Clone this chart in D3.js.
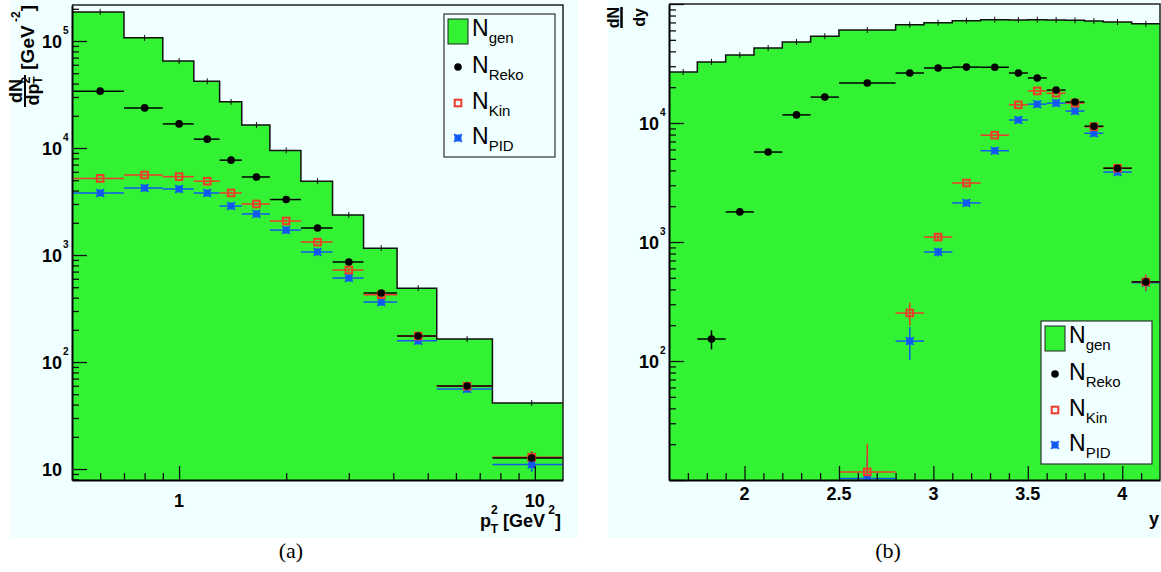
<!DOCTYPE html>
<html><head><meta charset="utf-8">
<script src="https://cdn.jsdelivr.net/npm/d3@7"></script>
<style>body{margin:0;background:#fff}svg{display:block}</style>
</head><body><svg id="c" width="1161" height="572"></svg>
<script>
// ---------------- DATA ----------------
// Panel (a): pT^2 bins [GeV^2]
const ptEdges = [0.5, 0.7, 0.9, 1.1, 1.3, 1.5, 1.8, 2.2, 2.7, 3.3, 4.1, 5.3, 7.6, 12.0];
const ptGen   = [187000, 107000, 65000, 42000, 27000, 16400, 9500, 4900, 2370, 1160, 490, 164, 41.4];
const ptReko  = [34000, 23700, 16800, 12100, 7700, 5360, 3300, 1790, 861, 442, 175, 59.7, 12.7];
const ptKin   = [5200, 5600, 5400, 4900, 3800, 3000, 2080, 1320, 724, 425, 175, 59.5, 12.9];
const ptPID   = [3800, 4230, 4140, 3800, 2870, 2420, 1710, 1070, 610, 363, 158, 56, 11];
const ptRekoErr = [180, 150, 130, 110, 90, 75, 60, 42, 30, 21, 13, 4, 1.6];
const ptKinErr  = [70, 75, 74, 70, 62, 55, 46, 36, 27, 21, 13, 4, 1.8];
const ptPIDErr  = [62, 65, 64, 62, 54, 49, 41, 33, 25, 19, 12, 4, 1.6];
const ptXTicks  = [1, 10];
const ptXLabels = ["1", "10"];
const ptYTicks  = [10, 100, 1000, 10000, 100000];
const ptYLabels = [["10", ""], ["10", "2"], ["10", "3"], ["10", "4"], ["10", "5"]];

// Panel (b): rapidity bins
const yEdges = [1.6, 1.75, 1.9, 2.05, 2.2, 2.35, 2.5, 2.8, 2.95, 3.1, 3.25, 3.4, 3.5, 3.6, 3.7, 3.8, 3.9, 4.05, 4.2];
const yGen   = [26800, 32600, 37300, 42700, 48000, 53700, 60500, 67000, 69600, 72400, 73800, 73400, 73800, 73400, 72900, 71900, 70600, 68300];
const yRekoFirst = 1;
const yReko  = [153, 1790, 5700, 11700, 16500, 21700, 26300, 29000, 29500, 29400, 26300, 23900, 18900, 15000, 9400, 4170, 462];
const yRekoErr = [28, 42, 75, 108, 128, 147, 162, 170, 172, 171, 162, 155, 137, 122, 97, 65, 22];
const yKinFirst = 6;
const yKin   = [11.7, 253, 1100, 3130, 7900, 14200, 18600, 17800, 14700, 9300, 4170, 462];
const yKinErr  = [8.5, 55, 70, 100, 150, 200, 230, 230, 200, 160, 100, 70];
const yPIDFirst = 6;
const yPID   = [10.3, 147, 824, 2130, 5850, 10600, 14400, 14700, 12600, 8200, 3870, 455];
const yPIDErr  = [6, 45, 70, 90, 130, 180, 200, 200, 180, 150, 100, 70];
const yXTicks  = [2, 2.5, 3, 3.5, 4];
const yXLabels = ["2", "2.5", "3", "3.5", "4"];
const yYTicks  = [100, 1000, 10000];
const yYLabels = [["10", "2"], ["10", "3"], ["10", "4"]];

const legendNames = [["N", "gen"], ["N", "Reko"], ["N", "Kin"], ["N", "PID"]];

// ---------------- STYLE ----------------
const svg = d3.select("#c");
const FS = "'Liberation Sans', Arial, Helvetica, sans-serif";
const GREEN = "#33f233", RED = "#ee3b2b", BLUE = "#1259f0", BG = "#f0ffff", INK = "#111";

function marker(g, type, cx, cy) {
  if (type === "reko") {
    g.append("circle").attr("cx", cx).attr("cy", cy).attr("r", 3.8).attr("fill", "#000");
  } else if (type === "kin") {
    g.append("rect").attr("x", cx - 3.3).attr("y", cy - 3.3).attr("width", 6.6).attr("height", 6.6)
      .attr("fill", "none").attr("stroke", RED).attr("stroke-width", 2);
  } else {
    g.append("rect").attr("x", cx - 3.5).attr("y", cy - 3.5).attr("width", 7).attr("height", 7).attr("fill", BLUE);
    g.append("path").attr("d", `M${cx-4},${cy-4}L${cx+4},${cy+4}M${cx-4},${cy+4}L${cx+4},${cy-4}`)
      .attr("stroke", BLUE).attr("stroke-width", 1.4);
  }
}

function legend(bx, by) {
  const g = svg.append("g");
  g.append("rect").attr("x", bx).attr("y", by).attr("width", 111).attr("height", 143)
    .attr("fill", BG).attr("stroke", "#333").attr("stroke-width", 1.2);
  g.append("rect").attr("x", bx + 4).attr("y", by + 5).attr("width", 20).attr("height", 25)
    .attr("fill", GREEN).attr("stroke", "#222").attr("stroke-width", 1);
  marker(g, "reko", bx + 14, by + 53);
  marker(g, "kin", bx + 14, by + 89);
  marker(g, "pid", bx + 14, by + 124);
  const base = [22, 59, 95, 130];
  legendNames.forEach((n, i) => {
    const t = g.append("text").attr("x", bx + 28).attr("y", by + base[i])
      .attr("font-family", FS).attr("fill", "#000");
    t.append("tspan").attr("font-size", 23).text(n[0]);
    t.append("tspan").attr("font-size", 15).attr("dy", 7).text(n[1]);
  });
}

function panel(o) {
  const g = svg.append("g");
  g.append("rect").attr("x", o.bg[0]).attr("y", o.bg[1]).attr("width", o.bg[2]).attr("height", o.bg[3]).attr("fill", BG);
  const { l, t, r, b } = o.frame;
  const x = o.x, y = o.y;
  const cid = o.id + "clip";
  svg.append("clipPath").attr("id", cid).append("rect").attr("x", l).attr("y", t).attr("width", r - l).attr("height", b - t);
  const pg = g.append("g").attr("clip-path", `url(#${cid})`);

  const hd = o.gen.map((v, i) => ({ e: o.edges[i], v }));
  hd.push({ e: o.edges[o.edges.length - 1], v: o.gen[o.gen.length - 1] });
  pg.append("path").datum(hd)
    .attr("d", d3.area().x(d => x(d.e)).y0(b + 2).y1(d => y(d.v)).curve(d3.curveStepAfter))
    .attr("fill", GREEN);
  pg.append("path").datum(hd)
    .attr("d", d3.line().x(d => x(d.e)).y(d => y(d.v)).curve(d3.curveStepAfter))
    .attr("fill", "none").attr("stroke", INK).attr("stroke-width", 1.5);
  o.gen.forEach((v, i) => {
    const cx = x((o.edges[i] + o.edges[i + 1]) / 2);
    pg.append("line").attr("x1", cx).attr("x2", cx).attr("y1", y(v) - 3).attr("y2", y(v) + 3)
      .attr("stroke", INK).attr("stroke-width", 1);
  });

  o.series.forEach(s => {
    s.values.forEach((v, j) => {
      const i = s.first + j;
      const lo = o.edges[i], hi = o.edges[i + 1];
      const cx = x((lo + hi) / 2), cy = y(v);
      pg.append("line").attr("x1", x(lo)).attr("x2", x(hi)).attr("y1", cy).attr("y2", cy)
        .attr("stroke", s.color).attr("stroke-width", 1.5);
      const e = s.err[j];
      const vlo = Math.max(v - e, y.domain()[0] * 0.1);
      pg.append("line").attr("x1", cx).attr("x2", cx).attr("y1", y(v + e)).attr("y2", y(vlo))
        .attr("stroke", s.color).attr("stroke-width", 1.5);
    });
  });
  o.series.forEach(s => {
    s.values.forEach((v, j) => {
      const i = s.first + j;
      const cx = x((o.edges[i] + o.edges[i + 1]) / 2);
      marker(pg, s.type, cx, y(v));
    });
  });

  // frame
  g.append("path").attr("d", `M${l},${t}H${r}V${b}`).attr("fill", "none").attr("stroke", "#222").attr("stroke-width", 1.5);

  // axes
  const tickStyle = sel => {
    sel.selectAll(".tick line").attr("stroke", INK).attr("stroke-width", 1.3);
    sel.selectAll(".tick text").remove();
  };
  const yMinor = [];
  const [y0, y1] = y.domain();
  for (let d = Math.pow(10, Math.floor(Math.log10(y0))); d < y1; d *= 10)
    for (let k = 2; k <= 9; k++) { const v = k * d; if (v > y0 && v < y1) yMinor.push(v); }
  g.append("g").attr("transform", `translate(${l},0)`)
    .call(d3.axisLeft(y).tickValues(yMinor).tickSize(-7).tickSizeOuter(0).tickFormat(""))
    .call(tickStyle).call(s => s.select(".domain").remove());
  g.append("g").attr("transform", `translate(${l},0)`)
    .call(d3.axisLeft(y).tickValues(o.yMajor).tickSize(-15).tickSizeOuter(0).tickFormat(""))
    .call(tickStyle).call(s => s.select(".domain").attr("stroke", "#000").attr("stroke-width", 2));
  g.append("g").attr("transform", `translate(0,${b})`)
    .call(d3.axisBottom(x).tickValues(o.xMinor).tickSize(-7).tickSizeOuter(0).tickFormat(""))
    .call(tickStyle).call(s => s.select(".domain").remove());
  g.append("g").attr("transform", `translate(0,${b})`)
    .call(d3.axisBottom(x).tickValues(o.xTicks).tickSize(-14).tickSizeOuter(0).tickFormat(""))
    .call(tickStyle).call(s => s.select(".domain").attr("stroke", "#000").attr("stroke-width", 2));

  // y labels
  o.yTicks.forEach((v, i) => {
    const [m, sup] = o.yLabels[i];
    g.append("text").attr("x", l - 10).attr("y", y(v) + 6.5).attr("text-anchor", "end")
      .attr("font-family", FS).attr("font-weight", "bold").attr("font-size", 18).text(m);
    if (sup) g.append("text").attr("x", l - 9).attr("y", y(v) - 7)
      .attr("font-family", FS).attr("font-weight", "bold").attr("font-size", 10).text(sup);
  });
  // x labels
  o.xTicks.forEach((v, i) => {
    g.append("text").attr("x", x(v)).attr("y", o.xLabelY).attr("text-anchor", "middle")
      .attr("font-family", FS).attr("font-weight", "bold").attr("font-size", 18).text(o.xLabels[i]);
  });
  return g;
}

// ---------------- PANEL (a) ----------------
const xA = d3.scaleLog().domain([0.5, 12]).range([72, 563]);
const yA = d3.scaleLog().domain([7.9, 217000]).range([480, 5]);
panel({
  id: "a", bg: [11, 0, 567, 538], frame: { l: 72, t: 5, r: 563, b: 480 },
  x: xA, y: yA, edges: ptEdges, gen: ptGen,
  series: [
    { type: "pid", color: BLUE, values: ptPID, err: ptPIDErr, first: 0 },
    { type: "kin", color: RED, values: ptKin, err: ptKinErr, first: 0 },
    { type: "reko", color: "#000", values: ptReko, err: ptRekoErr, first: 0 }
  ],
  yMajor: [10, 100, 1000, 10000, 100000], yTicks: ptYTicks, yLabels: ptYLabels,
  xTicks: ptXTicks, xLabels: ptXLabels, xMinor: [0.6, 0.7, 0.8, 0.9, 2, 3, 4, 5, 6, 7, 8, 9],
  xLabelY: 507
});
legend(444, 14);

// ---------------- PANEL (b) ----------------
const xB = d3.scaleLinear().domain([1.6, 4.2]).range([669, 1160]);
const yB = d3.scaleLog().domain([10, 100000]).range([480, 4]);
const xMinorB = d3.range(17, 42).map(v => v / 10).filter(v => Math.abs(v * 2 - Math.round(v * 2)) > 1e-6);
panel({
  id: "b", bg: [608, 0, 553, 538], frame: { l: 669, t: 4, r: 1160, b: 480 },
  x: xB, y: yB, edges: yEdges, gen: yGen,
  series: [
    { type: "pid", color: BLUE, values: yPID, err: yPIDErr, first: yPIDFirst },
    { type: "kin", color: RED, values: yKin, err: yKinErr, first: yKinFirst },
    { type: "reko", color: "#000", values: yReko, err: yRekoErr, first: yRekoFirst }
  ],
  yMajor: [10, 100, 1000, 10000, 100000], yTicks: yYTicks, yLabels: yYLabels,
  xTicks: yXTicks, xLabels: yXLabels, xMinor: xMinorB,
  xLabelY: 500
});
legend(1041, 321);

// ---------------- TITLES ----------------
const bold = sel => sel.attr("font-family", FS).attr("font-weight", "bold").attr("fill", "#000");
// x title (a)
{
  const t = svg.append("text").attr("x", 561).attr("y", 527).attr("text-anchor", "end").call(bold).attr("font-size", 18);
  t.append("tspan").text("p");
  t.append("tspan").attr("font-size", 12).attr("dy", -13).text("2");
  t.append("tspan").attr("font-size", 12).attr("dx", -7).attr("dy", 19).text("T");
  t.append("tspan").attr("dy", -6).text(" [GeV");
  t.append("tspan").attr("font-size", 12).attr("dy", -13).text(" 2");
  t.append("tspan").attr("dy", 13).text("]");
}
// x title (b)
svg.append("text").attr("x", 1159).attr("y", 525).attr("text-anchor", "end").call(bold).attr("font-size", 18).text("y");

// y title (a): dN/dp_T^2 [GeV^-2]
{
  const g = svg.append("g").attr("transform", "translate(0,5) rotate(-90)");
  const t = g.append("text").attr("x", 0).attr("y", 34).attr("text-anchor", "end").call(bold).attr("font-size", 19);
  t.append("tspan").text("[GeV");
  t.append("tspan").attr("font-size", 12).attr("dy", -14).text(" -2");
  t.append("tspan").attr("dy", 14).text("]");
  g.append("text").attr("x", -86).attr("y", 22).attr("text-anchor", "middle").call(bold).attr("font-size", 18).text("dN");
  g.append("line").attr("x1", -102).attr("x2", -70).attr("y1", 25).attr("y2", 25).attr("stroke", "#000").attr("stroke-width", 2);
  const d = g.append("text").attr("x", -86).attr("y", 39).attr("text-anchor", "middle").call(bold).attr("font-size", 18);
  d.append("tspan").text("dp");
  d.append("tspan").attr("font-size", 12).attr("dy", -9).text("2");
  d.append("tspan").attr("font-size", 12).attr("dx", -7).attr("dy", 12).text("T");
}
// y title (b): dN/dy
{
  const g = svg.append("g").attr("transform", "translate(0,0) rotate(-90)");
  g.append("text").attr("x", -17.5).attr("y", 619).attr("text-anchor", "middle").call(bold).attr("font-size", 16).text("dN");
  g.append("line").attr("x1", -28).attr("x2", -7).attr("y1", 621.5).attr("y2", 621.5).attr("stroke", "#000").attr("stroke-width", 2.5);
  g.append("text").attr("x", -17.5).attr("y", 645).attr("text-anchor", "middle").call(bold).attr("font-size", 16).text("dy");
}

// captions
svg.append("text").attr("x", 291).attr("y", 558).attr("text-anchor", "middle")
  .attr("font-family", "'Liberation Serif', 'Times New Roman', serif").attr("font-size", 22).text("(a)");
svg.append("text").attr("x", 888).attr("y", 558).attr("text-anchor", "middle")
  .attr("font-family", "'Liberation Serif', 'Times New Roman', serif").attr("font-size", 22).text("(b)");
</script></body></html>
